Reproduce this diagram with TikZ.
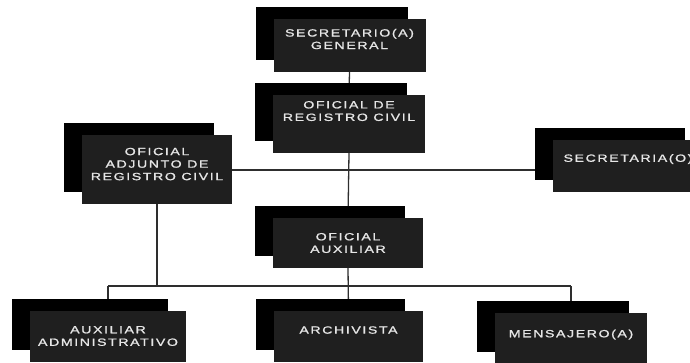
\documentclass[tikz,border=0pt]{standalone}
\usepackage{fontspec}
\newfontfamily\puestofont[FakeStretch=1.35,LetterSpace=15,FakeBold=1.2]{Liberation Sans}
\usetikzlibrary{shadows,backgrounds}
\definecolor{cajagris}{HTML}{1F1F1F}
\definecolor{letragris}{HTML}{E6E6E6}
\definecolor{lineagris}{HTML}{2E2E2E}
\tikzset{
    puesto/.style={fill=cajagris, text=letragris, align=center, inner sep=0pt,
        minimum width=152pt, minimum height=52pt,
        font=\puestofont\fontsize{10.5}{12.5}\selectfont,
        copy shadow={shadow xshift=-18pt, shadow yshift=12pt, fill=black, draw=none}},
    subir/.style={text depth=#1},
    linea/.style={draw=lineagris, line width=1.3pt}
}
\begin{document}
\begin{tikzpicture}[x=1pt, y=-1pt]
    \useasboundingbox (0,0) rectangle (690,363);

    % Row 1
    \node[puesto, minimum height=53pt, subir=13pt] (sg) at (349.5,45.5) {SECRETARIO(A)\\GENERAL};

    % Row 2
    \node[puesto, minimum height=58pt, subir=26pt] (orc) at (349,124) {OFICIAL DE\\REGISTRO CIVIL};

    % Row 3
    \node[puesto, minimum width=150pt, minimum height=69pt, subir=11pt] (adj) at (157,169.5) {OFICIAL\\ADJUNTO DE\\REGISTRO CIVIL};
    \node[puesto, minimum width=150pt, subir=16pt] (sec) at (628,166) {SECRETARIA(O)};
    \coordinate (cruce) at (349,170);

    % Row 4
    \node[puesto, minimum width=150pt, minimum height=50pt] (aux) at (348,243) {OFICIAL\\AUXILIAR};
    \coordinate (barra) at (348,286);

    % Row 5
    \node[puesto, minimum width=156pt, minimum height=51pt] (adm) at (108,336) {AUXILIAR\\ADMINISTRATIVO};
    \node[puesto, minimum width=149pt, minimum height=51pt, subir=12pt] (arc) at (348.5,336) {ARCHIVISTA};
    \node[puesto, minimum height=51pt, subir=9pt] (men) at (571,338) {MENSAJERO(A)};

    % Edges
    \begin{scope}[on background layer]
        \draw[linea] (sg.south) -- (orc.north);
        \draw[linea] (orc.south) -- (aux.north);
        \draw[linea] (adj.east |- cruce) -- (sec.west |- cruce);
        \draw[linea] (adj.south) -- (adj.south |- barra);
        \draw[linea] (aux.south) -- (arc.north);
        \draw[linea] (barra -| adm.north) -- (barra -| men.north);
        \draw[linea] (barra -| adm.north) -- (adm.north);
        \draw[linea] (barra -| men.north) -- (men.north);
    \end{scope}
\end{tikzpicture}
\end{document}
